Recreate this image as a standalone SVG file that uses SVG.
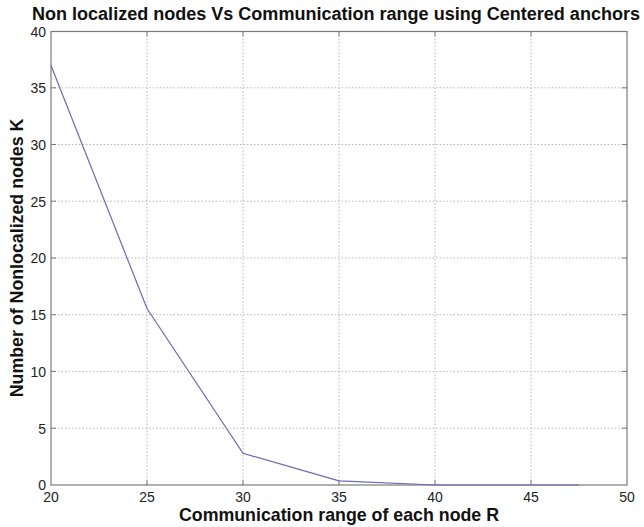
<svg xmlns="http://www.w3.org/2000/svg" width="644" height="527" viewBox="0 0 644 527">
<style>
.grid{stroke:#b8b8b8;stroke-width:1;stroke-dasharray:1.5,2;fill:none}
.axis{stroke:#7a7a7a;stroke-width:1.2;fill:none}
.tick{stroke:#7a7a7a;stroke-width:1}
.lbl{font-family:"Liberation Sans",Arial,sans-serif;font-size:14px;fill:#222}
.ttl{font-family:"Liberation Sans",Arial,sans-serif;font-weight:bold;fill:#111}
.data{stroke:#6a6ab4;stroke-width:1.2;fill:none}
</style>
<rect width="644" height="527" fill="#ffffff"/>
<g id="grid">
<path class="grid" d="M147 31.5V485M243 31.5V485M339 31.5V485M435 31.5V485M531 31.5V485"/>
<path class="grid" d="M51 87.8H627M51 144.5H627M51 201.2H627M51 258H627M51 314.7H627M51 371.4H627M51 428.2H627"/>
</g>
<g id="axes">
<rect class="axis" x="51" y="31.5" width="576" height="453.5"/>
<path class="tick" d="M147 485v-5M243 485v-5M339 485v-5M435 485v-5M531 485v-5M147 31.5v5M243 31.5v5M339 31.5v5M435 31.5v5M531 31.5v5"/>
<path class="tick" d="M51 87.8h5M51 144.5h5M51 201.2h5M51 258h5M51 314.7h5M51 371.4h5M51 428.2h5M627 87.8h-5M627 144.5h-5M627 201.2h-5M627 258h-5M627 314.7h-5M627 371.4h-5M627 428.2h-5"/>
</g>
<g id="ylabels" class="lbl" text-anchor="end">
<text x="46" y="37">40</text>
<text x="46" y="93">35</text>
<text x="46" y="150">30</text>
<text x="46" y="206.5">25</text>
<text x="46" y="263">20</text>
<text x="46" y="320">15</text>
<text x="46" y="377">10</text>
<text x="46" y="433.5">5</text>
<text x="46" y="490">0</text>
</g>
<g id="xlabels" class="lbl" text-anchor="middle">
<text x="51" y="502">20</text>
<text x="147" y="502">25</text>
<text x="243" y="502">30</text>
<text x="339" y="502">35</text>
<text x="435" y="502">40</text>
<text x="531" y="502">45</text>
<text x="627" y="502">50</text>
</g>
<g id="series">
<polyline class="data" points="51,65.5 147,308.5 243,453.3 339,480.8 435,485 579,485"/>
</g>
<text id="title" class="ttl" x="336" y="20" font-size="18" text-anchor="middle" textLength="608" lengthAdjust="spacingAndGlyphs">Non localized nodes Vs Communication range using Centered anchors</text>
<text id="xtitle" class="ttl" x="339" y="521" font-size="17.8" text-anchor="middle">Communication range of each node R</text>
<text id="ytitle" class="ttl" font-size="17.8" text-anchor="middle" transform="translate(23,258) rotate(-90)">Number of Nonlocalized nodes K</text>
</svg>
